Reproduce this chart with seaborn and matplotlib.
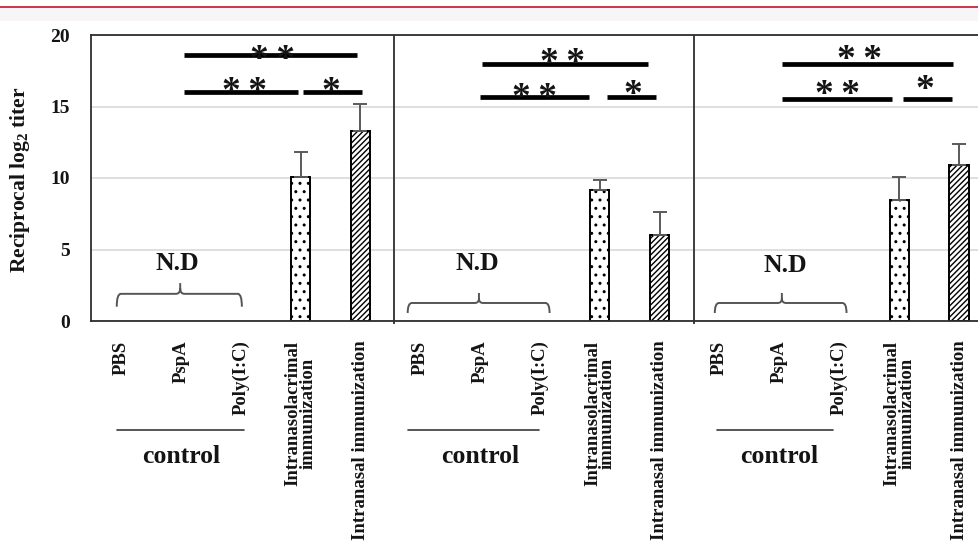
import numpy as np
import pandas as pd
import matplotlib
matplotlib.use("Agg")
import matplotlib.pyplot as plt
import matplotlib.transforms as mtransforms
from matplotlib.patches import Rectangle, PathPatch
from matplotlib.path import Path
from matplotlib.lines import Line2D
import seaborn as sns

# ---- data ---------------------------------------------------------------
panels = ["A", "B", "C"]
groups = ["PBS", "PspA", "Poly(I:C)",
          "Intranasolacrimal\nimmunization", "Intranasal immunization"]
lacrimal_mean = [10.1, 9.15, 8.45]
lacrimal_sd = [1.7, 0.7, 1.65]
nasal_mean = [13.3, 6.0, 10.9]
nasal_sd = [1.9, 1.6, 1.5]
yticks = [0, 5, 10, 15, 20]

two_star = "*\u2009*"
# significance bars per panel: (x start, x end, y, label, label x, label baseline)
sig_bars = [
    [(1.05, 3.94, 18.6, two_star, 2.54, 17.57), (1.05, 2.96, 16.0, two_star, 2.07, 15.32),
     (3.04, 4.02, 16.0, "*", 3.50, 15.32)],
    [(1.03, 3.80, 18.0, two_star, 2.38, 17.36), (1.00, 2.82, 15.66, two_star, 1.91, 14.92),
     (3.12, 3.93, 15.66, "*", 3.55, 15.12)],
    [(1.04, 3.90, 18.0, two_star, 2.34, 17.57), (1.04, 2.88, 15.5, two_star, 1.97, 15.12),
     (3.06, 3.88, 15.5, "*", 3.43, 15.47)],
]
# "N.D" bracket over the control groups: (x0, x1, centre, y_end, y_flat, y_tip, text x, text y)
nd_brace = [
    (-0.07, 2.02, 0.99, 1.0, 1.9, 2.65, 0.95, 4.05),
    (-0.21, 2.16, 0.98, 0.56, 1.26, 1.96, 0.95, 4.05),
    (-0.08, 2.12, 1.04, 0.56, 1.26, 1.96, 1.09, 3.9),
]
control_line = [(-0.07, 2.05), (-0.21, 1.99), (-0.05, 1.89)]
dividers = [4.56, 9.57]

# ---- table for seaborn -----------------------------------------------------
keys = [f"{p}|{g}" for p in panels for g in groups]
rows = []
for i, p in enumerate(panels):
    rows.append({"key": f"{p}|{groups[3]}", "titer": lacrimal_mean[i],
                 "sd": lacrimal_sd[i], "route": "lacrimal"})
    rows.append({"key": f"{p}|{groups[4]}", "titer": nasal_mean[i],
                 "sd": nasal_sd[i], "route": "nasal"})
df = pd.DataFrame(rows)

# ---- style -------------------------------------------------------------
sns.set_theme(style="white")
serif = "Liberation Serif"
plt.rcParams["font.family"] = [serif, "DejaVu Serif"]
plt.rcParams["mathtext.fontset"] = "custom"
plt.rcParams["mathtext.rm"] = "Liberation Serif:bold"
plt.rcParams["mathtext.bf"] = "Liberation Serif:bold"
plt.rcParams["hatch.linewidth"] = 1.0
ink = "#141414"
axis_col = "#2e2e2e"

fig = plt.figure(figsize=(9.79, 5.49), dpi=100)
W, H = 979, 549
ax = fig.add_axes([91 / W, 228 / H, 898 / W, 286 / H])

sns.barplot(data=df, x="key", y="titer", order=keys, width=0.32,
            color="white", edgecolor="black", linewidth=1.4,
            errorbar=None, saturation=1, ax=ax)

for patch in ax.patches:
    idx = int(round(patch.get_x() + patch.get_width() / 2))
    patch.set_facecolor("white")
    patch.set_hatch(".." if idx % 5 == 3 else "//////")

xpos = [keys.index(k) for k in df["key"]]
ax.errorbar(xpos, df["titer"], yerr=[np.zeros(len(df)), df["sd"]],
            fmt="none", ecolor="#5a5a5a", elinewidth=1.4, capsize=5,
            capthick=1.4, zorder=1)

ax.set_xlim(-0.5, 14.5)
ax.set_ylim(0, 20)
ax.set_yticks(yticks)
ax.set_yticklabels([str(t) for t in yticks], fontsize=14, fontweight="bold",
                   color=ink)
ax.set_xticks(range(len(keys)))
ax.set_xticklabels(groups * len(panels), rotation=90, fontsize=13.5,
                   fontweight="bold", color=ink, linespacing=0.85)
ax.tick_params(axis="x", length=0, pad=14)
ax.tick_params(axis="y", length=0, pad=15)
ax.set_xlabel("")
ax.set_ylabel("Reciprocal log$_\\mathregular{2}$ titer", fontsize=15.5,
              fontweight="bold", color=ink)
ax.yaxis.set_label_coords(-0.066, 0.493)

ax.yaxis.grid(True, color="#d9d9d9", linewidth=1.2)
ax.xaxis.grid(False)
ax.set_axisbelow(True)
for s in ax.spines.values():
    s.set_color(axis_col)
    s.set_linewidth(1.3)

ax.vlines(dividers, -0.2, 20, color=axis_col, linewidth=1.3, clip_on=False)

below = mtransforms.blended_transform_factory(ax.transData, ax.transAxes)

for p in range(len(panels)):
    off = 5 * p
    # significance bars
    for x0, x1, y, lab, tx, ty in sig_bars[p]:
        ax.plot([off + x0, off + x1], [y, y], color="black", linewidth=3.4,
                solid_capstyle="butt", zorder=4)
        ax.text(off + tx, ty, lab, ha="center", va="baseline", fontsize=27,
                fontweight="bold", color=ink, zorder=5)
    # N.D bracket
    x0, x1, xm, ye, yf, yt, tx, ty = nd_brace[p]
    x0, x1, xm, tx = x0 + off, x1 + off, xm + off, tx + off
    rx, ry = 0.07, (yf - ye) * 0.45
    verts = [(x0, ye), (x0, yf), (x0 + rx, yf),
             (xm - rx, yf), (xm, yf), (xm, yf + ry),
             (xm, yt),
             (xm, yf + ry), (xm, yf), (xm + rx, yf),
             (x1 - rx, yf), (x1, yf), (x1, ye)]
    codes = [Path.MOVETO, Path.CURVE3, Path.CURVE3,
             Path.LINETO, Path.CURVE3, Path.CURVE3,
             Path.LINETO,
             Path.MOVETO, Path.CURVE3, Path.CURVE3,
             Path.LINETO, Path.CURVE3, Path.CURVE3]
    ax.add_patch(PathPatch(Path(verts, codes), facecolor="none",
                           edgecolor="#555555", linewidth=1.4, zorder=3))
    ax.text(tx, ty, "N.D", ha="center", va="center", fontsize=18.5,
            fontweight="bold", color=ink)
    # control underline and caption
    c0, c1 = control_line[p]
    ax.plot([off + c0, off + c1], [-0.381, -0.381], transform=below,
            color="#3a3a3a", linewidth=1.2, clip_on=False)
    ax.text(off + 1.0, -0.4755, "control", transform=below, ha="center",
            va="center", fontsize=18.5, fontweight="bold", color=ink)

# page header strip
fig.add_artist(Rectangle((0, 1 - 21 / H), 1, 14 / H, transform=fig.transFigure,
                         facecolor="#f7f5f5", edgecolor="none", zorder=0))
fig.add_artist(Line2D([0, 1], [1 - 6.5 / H] * 2, transform=fig.transFigure,
                      color="#c8102e", linewidth=1.2))

fig.savefig("out.png", dpi=100)
